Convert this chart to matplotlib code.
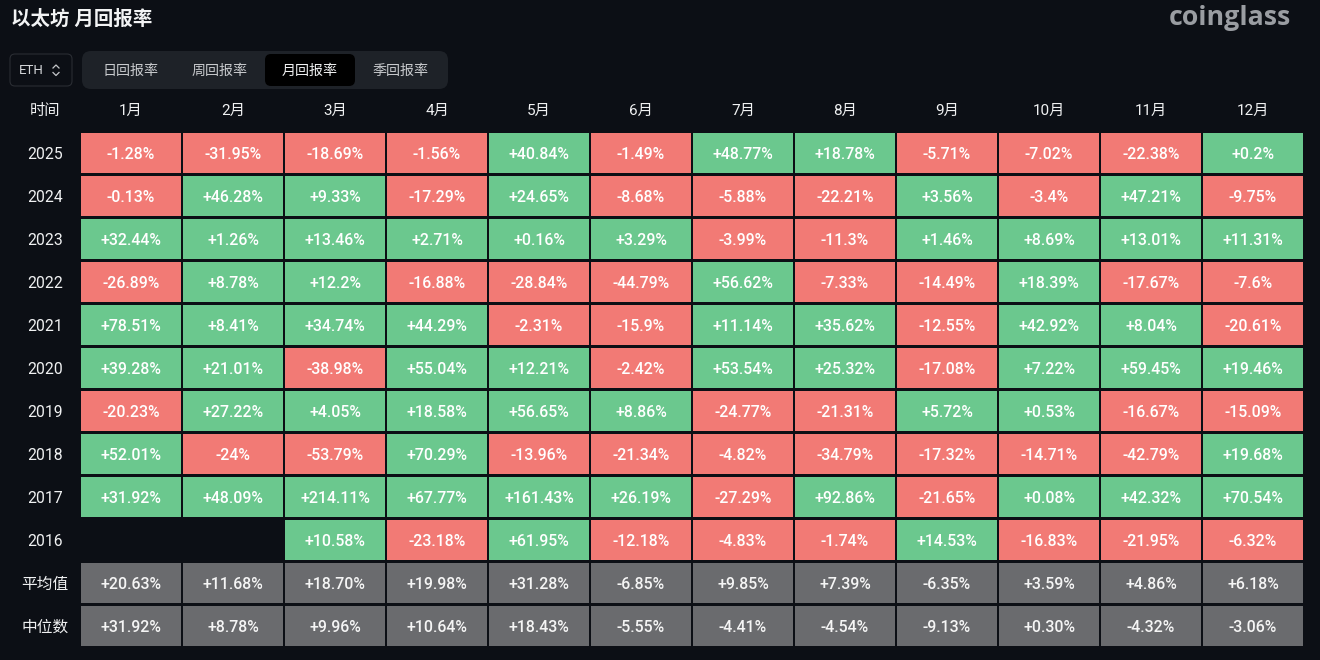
import matplotlib
matplotlib.use("Agg")
import matplotlib.pyplot as plt
from matplotlib.patches import FancyBboxPatch

plt.rcParams['font.family'] = ['Roboto', 'Noto Sans CJK SC', 'DejaVu Sans']

months = ['1月','2月','3月','4月','5月','6月','7月','8月','9月','10月','11月','12月']
years = ['2025','2024','2023','2022','2021','2020','2019','2018','2017','2016']
r2025 = ['-1.28%','-31.95%','-18.69%','-1.56%','+40.84%','-1.49%','+48.77%','+18.78%','-5.71%','-7.02%','-22.38%','+0.2%']
r2024 = ['-0.13%','+46.28%','+9.33%','-17.29%','+24.65%','-8.68%','-5.88%','-22.21%','+3.56%','-3.4%','+47.21%','-9.75%']
r2023 = ['+32.44%','+1.26%','+13.46%','+2.71%','+0.16%','+3.29%','-3.99%','-11.3%','+1.46%','+8.69%','+13.01%','+11.31%']
r2022 = ['-26.89%','+8.78%','+12.2%','-16.88%','-28.84%','-44.79%','+56.62%','-7.33%','-14.49%','+18.39%','-17.67%','-7.6%']
r2021 = ['+78.51%','+8.41%','+34.74%','+44.29%','-2.31%','-15.9%','+11.14%','+35.62%','-12.55%','+42.92%','+8.04%','-20.61%']
r2020 = ['+39.28%','+21.01%','-38.98%','+55.04%','+12.21%','-2.42%','+53.54%','+25.32%','-17.08%','+7.22%','+59.45%','+19.46%']
r2019 = ['-20.23%','+27.22%','+4.05%','+18.58%','+56.65%','+8.86%','-24.77%','-21.31%','+5.72%','+0.53%','-16.67%','-15.09%']
r2018 = ['+52.01%','-24%','-53.79%','+70.29%','-13.96%','-21.34%','-4.82%','-34.79%','-17.32%','-14.71%','-42.79%','+19.68%']
r2017 = ['+31.92%','+48.09%','+214.11%','+67.77%','+161.43%','+26.19%','-27.29%','+92.86%','-21.65%','+0.08%','+42.32%','+70.54%']
r2016 = [None,None,'+10.58%','-23.18%','+61.95%','-12.18%','-4.83%','-1.74%','+14.53%','-16.83%','-21.95%','-6.32%']
mean_row = ['+20.63%','+11.68%','+18.70%','+19.98%','+31.28%','-6.85%','+9.85%','+7.39%','-6.35%','+3.59%','+4.86%','+6.18%']
median_row = ['+31.92%','+8.78%','+9.96%','+10.64%','+18.43%','-5.55%','-4.41%','-4.54%','-9.13%','+0.30%','-4.32%','-3.06%']
year_rows = [r2025,r2024,r2023,r2022,r2021,r2020,r2019,r2018,r2017,r2016]
tabs = ['日回报率','周回报率','月回报率','季回报率']

BG='#0c0f15'; RED='#f27a75'; GREEN='#6bc88e'; GRAY='#6a6b6e'; TXT='#f0f1f2'

W,H=1320,660
fig=plt.figure(figsize=(W/100,H/100),dpi=100,facecolor=BG)
ui=fig.add_axes([0,0,1,1]); ui.set_xlim(0,W); ui.set_ylim(H,0); ui.axis('off')

def pill(x,y,w,h,r,fc,ec='none'):
    ui.add_patch(FancyBboxPatch((x+r,y+r),w-2*r,h-2*r,boxstyle=f'round,pad={r},rounding_size={r}',
                                fc=fc,ec=ec,lw=0.8))

ui.text(11,19,'以太坊 月回报率',color='#f2f3f4',fontsize=14,fontweight='bold',va='center',ha='left')
ui.text(1230,18,'coinglass',color='#9a9da2',fontsize=19.3,fontweight='bold',va='center',ha='center',family='Open Sans')

pill(10,54,62,32,5,BG,'#2a2d33')
ui.text(19,70.5,'ETH',color='#d5d7da',fontsize=9.5,va='center',ha='left')
ui.plot([53,56,59],[68,65,68],color='#c5c7ca',lw=0.9)
ui.plot([53,56,59],[72.5,75.5,72.5],color='#c5c7ca',lw=0.9)
pill(82,51,366,38,9,'#1e2228')
pill(265,54,90,32,6,'#000000')
for cx,t in zip([130.5,220,310,400],tabs):
    ui.text(cx,71,t,color='#f0f1f2' if t=='月回报率' else '#c8cacd',fontsize=10.1,va='center',ha='center')

ax=fig.add_axes([80/W,1-647.5/H,1224/W,516/H])
ax.set_xlim(-0.5,11.5); ax.set_ylim(11.5,-0.5); ax.axis('off'); ax.patch.set_alpha(0)
cw,ch=100/102,40/43
rows=year_rows+[mean_row,median_row]
for r,row in enumerate(rows):
    for c,v in enumerate(row):
        if v is None: continue
        col=GRAY if r>=len(year_rows) else (GREEN if v.startswith('+') else RED)
        ax.bar(c,ch,width=cw,bottom=r-ch/2,color=col,lw=0)
        ax.text(c,r+0.03,v,color='#ffffff' if r<len(year_rows) else '#f5f5f5',fontsize=11.4,
                fontweight='medium',ha='center',va='center')

LX=-0.843
for c,m in enumerate(months):
    ax.text(c,-0.97,m,color=TXT,fontsize=11,ha='center',va='center',clip_on=False)
ax.text(LX,-0.97,'时间',color=TXT,fontsize=11,ha='center',va='center',clip_on=False)
for r,y in enumerate(years+['平均值','中位数']):
    ax.text(LX,r+0.025,y,color=TXT,fontsize=11.3,ha='center',va='center',clip_on=False)

fig.savefig('out.png',dpi=100,facecolor=BG)
